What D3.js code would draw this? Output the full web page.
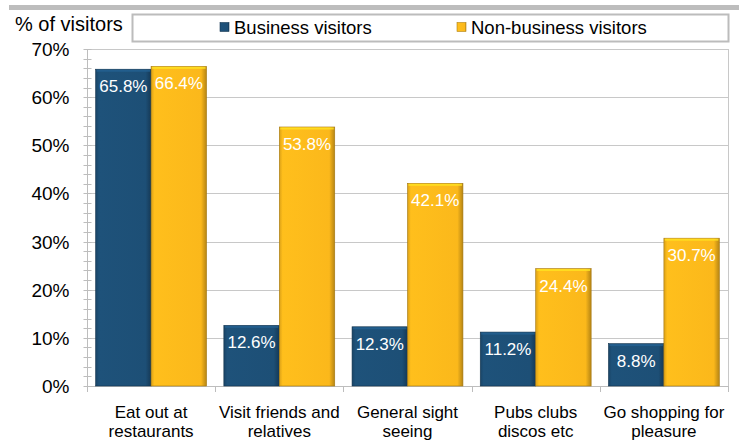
<!DOCTYPE html>
<html>
<head>
<meta charset="utf-8">
<script src="https://cdn.jsdelivr.net/npm/d3@7"></script>
<style>
  html, body { margin: 0; padding: 0; background: #fff; }
</style>
</head>
<body>
<svg id="chart" width="739" height="441" font-family="'Liberation Sans', Arial, Helvetica, sans-serif"></svg>
<script>
// Activities undertaken by visitors, share of each visitor group
const categories = [
  ["Eat out at", "restaurants"],
  ["Visit friends and", "relatives"],
  ["General sight", "seeing"],
  ["Pubs clubs", "discos etc"],
  ["Go shopping for", "pleasure"]
];
const seriesNames = ["Business visitors", "Non-business visitors"];
const businessValues = [65.8, 12.6, 12.3, 11.2, 8.8];
const nonBusinessValues = [66.4, 53.8, 42.1, 24.4, 30.7];
const yTicks = [0, 10, 20, 30, 40, 50, 60, 70];
const seriesColors = ["#1d4f76", "#fbb81b"];

const svg = d3.select("#chart");
const plot = { left: 87, right: 728, top: 49, bottom: 386 };

// decorative band across the top
svg.append("rect").attr("x", 9).attr("y", 5).attr("width", 730).attr("height", 5).attr("fill", "#bdbdbd");

const x0 = d3.scaleBand().domain(d3.range(categories.length))
  .range([plot.left, plot.right]).paddingInner(0.135).paddingOuter(0.0675);
const x1 = d3.scaleBand().domain([0, 1]).range([0, x0.bandwidth()]);
const y = d3.scaleLinear().domain([0, 70]).range([plot.bottom, plot.top]);

// gradients for bevelled bars
const defs = svg.append("defs");
seriesColors.forEach((c, i) => {
  const g = defs.append("linearGradient").attr("id", "grad" + i)
    .attr("x1", 0).attr("x2", 1).attr("y1", 0).attr("y2", 0);
  const base = d3.color(c);
  g.append("stop").attr("offset", "0%").attr("stop-color", base.darker(0.4));
  g.append("stop").attr("offset", "6%").attr("stop-color", base.brighter(0.1));
  g.append("stop").attr("offset", "90%").attr("stop-color", base);
  g.append("stop").attr("offset", "100%").attr("stop-color", base.darker(0.9));
});

// gridlines
svg.append("g").selectAll("line").data(yTicks.filter(d => d > 0)).join("line")
  .attr("x1", plot.left).attr("x2", plot.right)
  .attr("y1", d => Math.round(y(d)) + 0.5).attr("y2", d => Math.round(y(d)) + 0.5)
  .attr("stroke", "#c8c8c8").attr("stroke-width", 1);
// right border
svg.append("line").attr("x1", plot.right + 0.5).attr("x2", plot.right + 0.5)
  .attr("y1", plot.top).attr("y2", plot.bottom).attr("stroke", "#c8c8c8");

// y axis with minor ticks
const yAxis = svg.append("g").attr("transform", `translate(${plot.left + 0.5},0)`);
yAxis.append("line").attr("y1", plot.top).attr("y2", plot.bottom).attr("stroke", "#bdbdbd");
yAxis.selectAll(".minor").data(d3.range(0, 70.1, 2)).join("line")
  .attr("x1", -4).attr("x2", 4)
  .attr("y1", d => Math.round(y(d)) + 0.5).attr("y2", d => Math.round(y(d)) + 0.5)
  .attr("stroke", "#bdbdbd");
yAxis.selectAll("text").data(yTicks).join("text")
  .attr("x", -18).attr("y", d => y(d) + 7)
  .attr("text-anchor", "end").attr("font-size", 19).attr("fill", "#000")
  .text(d => d + "%");

// x axis
const xAxis = svg.append("g");
xAxis.append("line").attr("x1", plot.left).attr("x2", plot.right)
  .attr("y1", plot.bottom + 0.5).attr("y2", plot.bottom + 0.5).attr("stroke", "#bdbdbd");
xAxis.selectAll(".tick").data(d3.range(categories.length + 1)).join("line")
  .attr("x1", i => Math.round(plot.left + i * x0.step()) + 0.5)
  .attr("x2", i => Math.round(plot.left + i * x0.step()) + 0.5)
  .attr("y1", plot.bottom).attr("y2", plot.bottom + 6).attr("stroke", "#bdbdbd");
const catLabels = xAxis.selectAll(".cat").data(categories).join("text")
  .attr("text-anchor", "middle").attr("font-size", 17).attr("fill", "#000")
  .attr("x", (d, i) => x0(i) + x0.bandwidth() / 2);
catLabels.each(function (lines) {
  const t = d3.select(this);
  lines.forEach((ln, k) => t.append("tspan")
    .attr("x", t.attr("x")).attr("y", 418 + k * 19).text(ln));
});

// bars
const rows = categories.map((c, i) => [businessValues[i], nonBusinessValues[i]]);
const groups = svg.append("g").selectAll("g").data(rows).join("g")
  .attr("transform", (d, i) => `translate(${x0(i)},0)`);
const bars = groups.selectAll("g").data(d => d.map((v, s) => ({ v, s }))).join("g");
bars.append("rect")
  .attr("x", d => x1(d.s)).attr("y", d => y(d.v))
  .attr("width", x1.bandwidth()).attr("height", d => plot.bottom - y(d.v))
  .attr("fill", d => `url(#grad${d.s})`)
  .attr("stroke", d => d3.color(seriesColors[d.s]).darker(1.2)).attr("stroke-width", 0.6);
// top highlight edge
bars.append("rect")
  .attr("x", d => x1(d.s) + 1).attr("y", d => y(d.v) + 0.5)
  .attr("width", x1.bandwidth() - 2).attr("height", 2)
  .attr("fill", d => d3.color(seriesColors[d.s]).brighter(0.6)).attr("opacity", 0.8);
bars.append("text")
  .attr("x", d => x1(d.s) + x1.bandwidth() / 2).attr("y", d => y(d.v) + 23)
  .attr("text-anchor", "middle").attr("font-size", 17).attr("fill", "#fff")
  .text(d => d.v.toFixed(1) + "%");

// axis title
svg.append("text").attr("x", 15).attr("y", 31).attr("font-size", 20).attr("fill", "#000")
  .text("% of visitors");

// legend
const legend = svg.append("g");
legend.append("rect").attr("x", 132.5).attr("y", 14.5).attr("width", 596).attr("height", 27)
  .attr("fill", "#fff").attr("stroke", "#bcbcbc").attr("stroke-width", 2);
const legendX = [220, 457];
seriesNames.forEach((name, i) => {
  legend.append("rect").attr("x", legendX[i]).attr("y", 22.5).attr("width", 9).attr("height", 9)
    .attr("fill", `url(#grad${i})`).attr("stroke", d3.color(seriesColors[i]).darker(1)).attr("stroke-width", 0.6);
  legend.append("text").attr("x", legendX[i] + 14).attr("y", 34).attr("font-size", 18.5)
    .attr("fill", "#000").text(name);
});
</script>
</body>
</html>
